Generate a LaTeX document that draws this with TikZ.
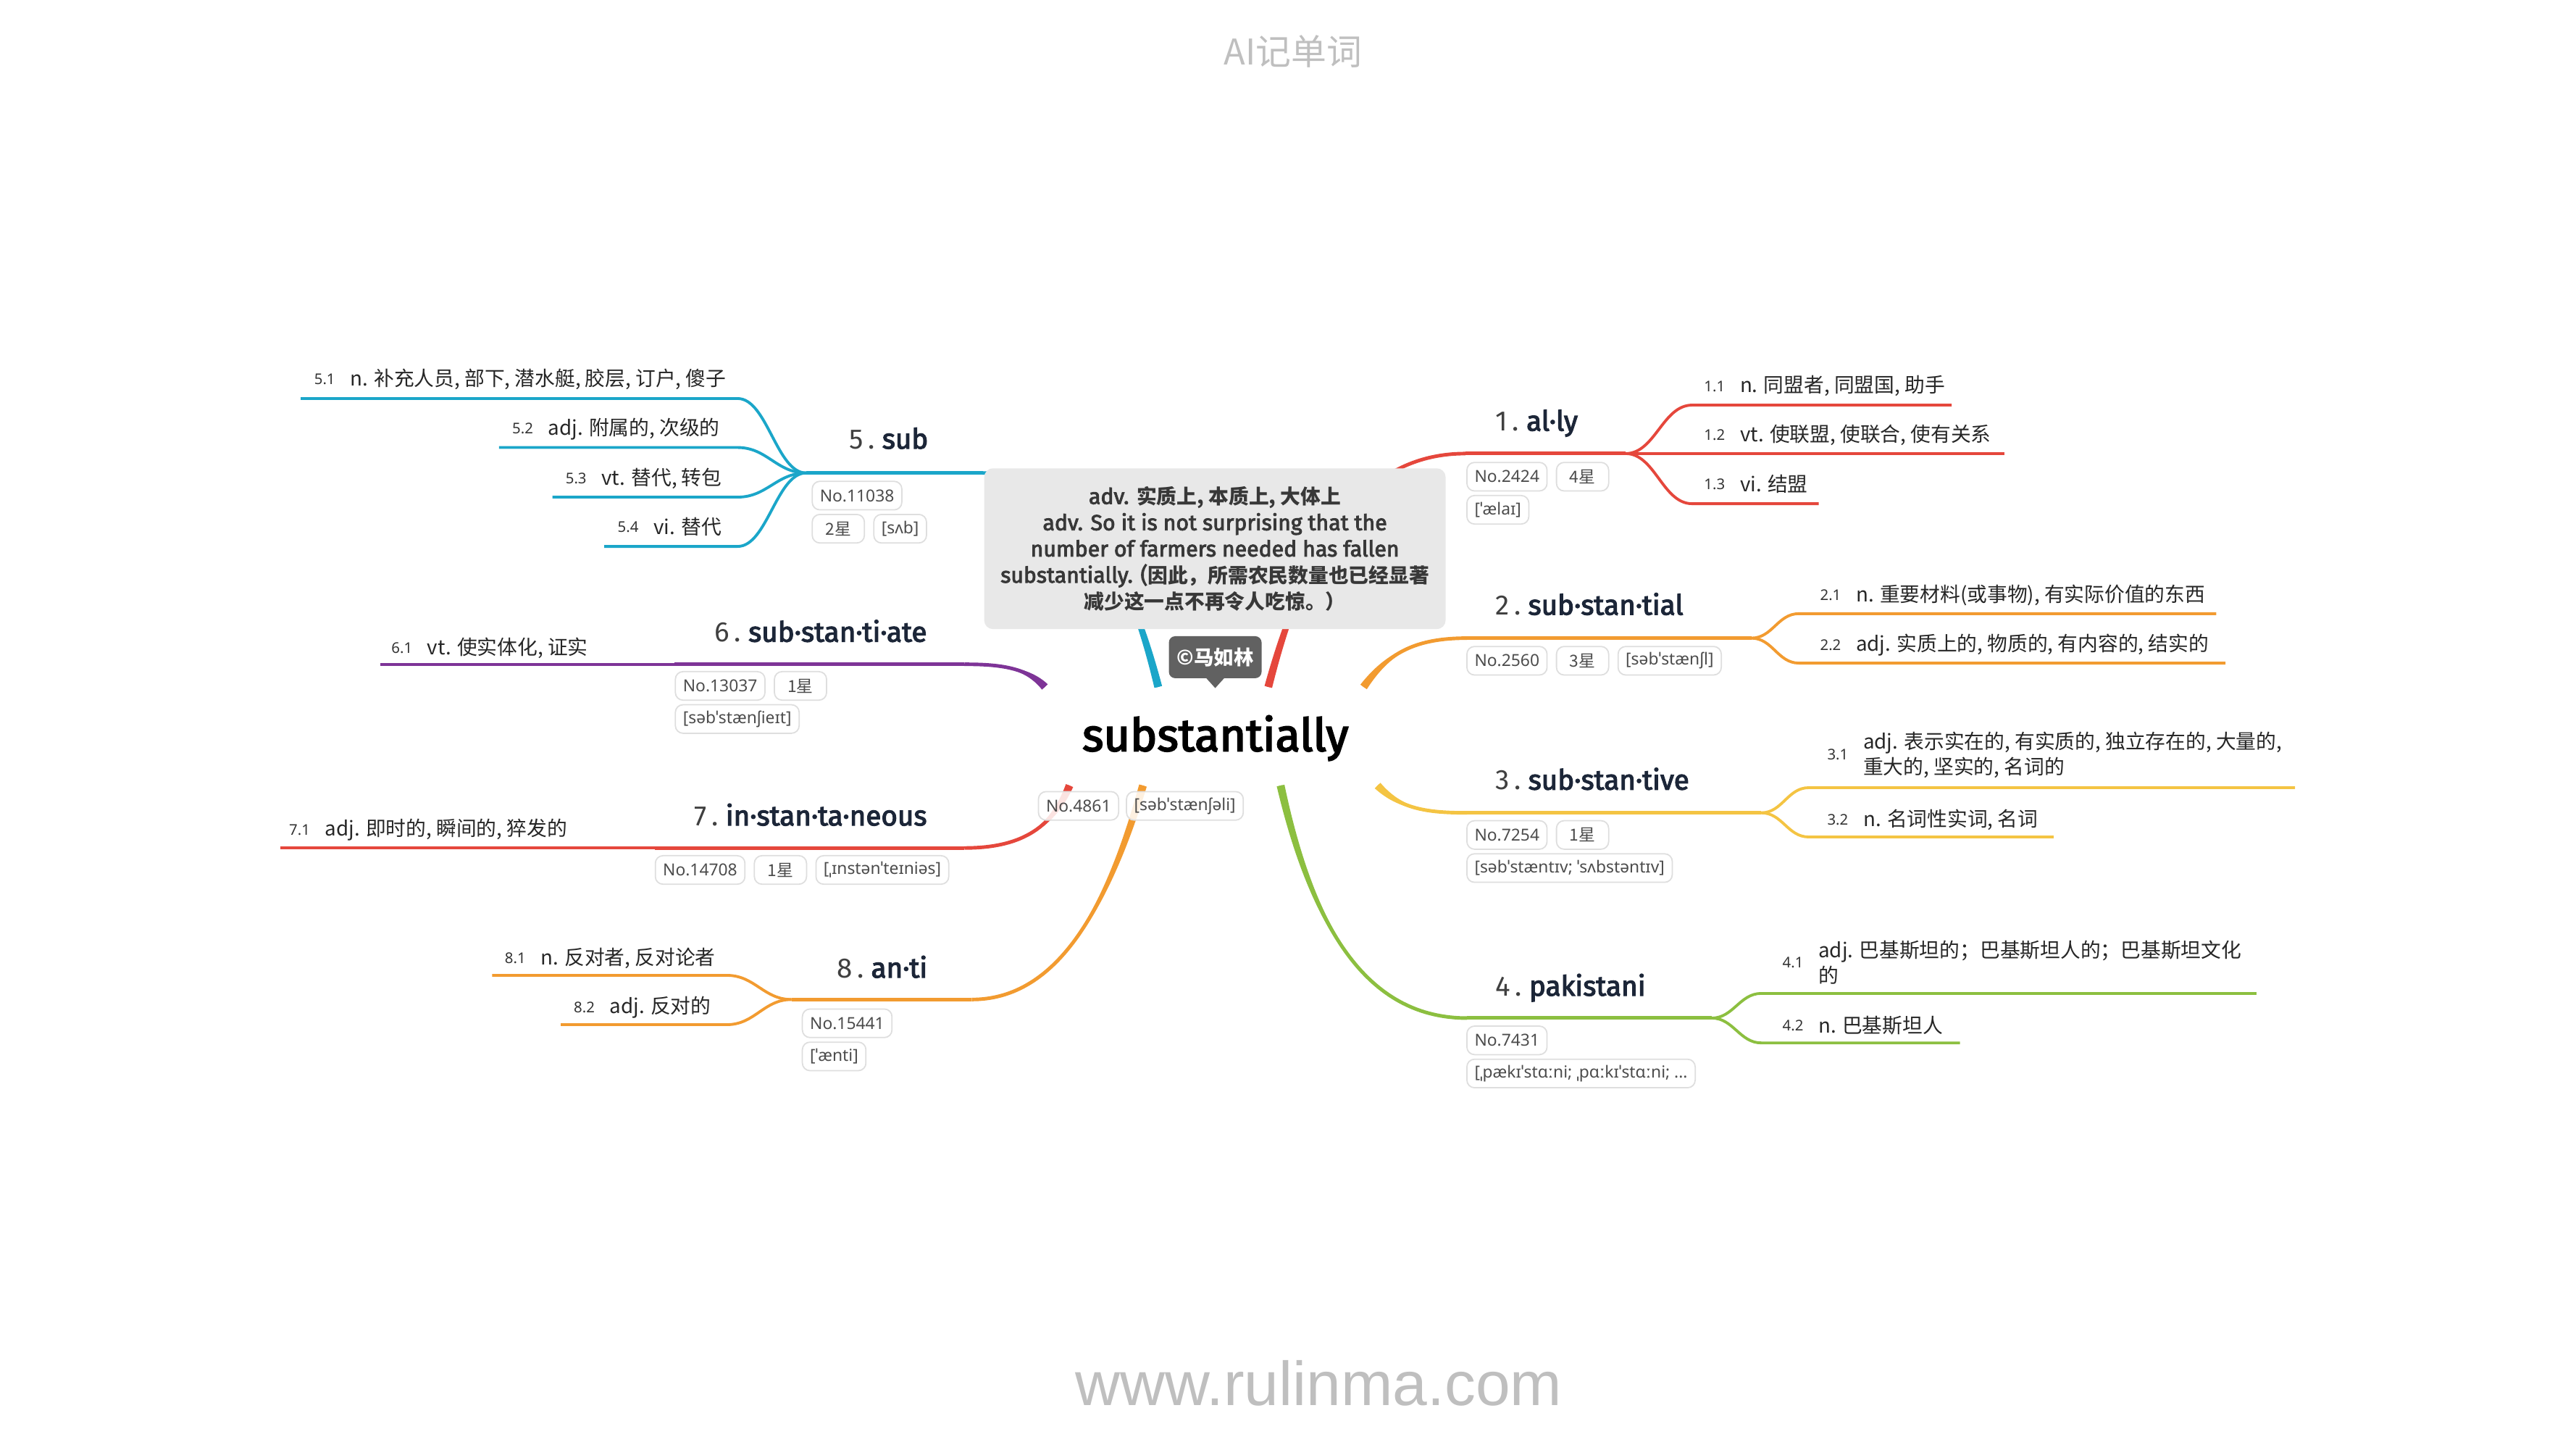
\documentclass[tikz,border=0pt]{standalone}
\usepackage{fontspec}
\setmainfont{Noto Sans}
\newfontfamily\headfont{Fira Sans}[AutoFakeBold=3]
\newfontfamily\cjk{Noto Sans CJK SC}
\newfontfamily\webfont{Liberation Sans}
\usetikzlibrary{positioning,calc}

\definecolor{cyanb}{HTML}{1BA6C9}
\definecolor{redb}{HTML}{E5473C}
\definecolor{orangeb}{HTML}{F29B30}
\definecolor{yellowb}{HTML}{F4C443}
\definecolor{greenb}{HTML}{8CBF40}
\definecolor{purpleb}{HTML}{7E3497}
\definecolor{wordc}{HTML}{1C2638}
\definecolor{notec}{HTML}{E8E8E8}
\definecolor{markc}{HTML}{BFBFBF}

% number in front of a head word
\newcommand\wnum[1]{{\mdseries\color{black!75}#1\,.\ }}
% chinese run inside the note
\newcommand\ncjk[1]{{\fontsize{7.9}{10.3}\selectfont\cjk #1}}
% tapered main branch: colour, start, control 1, control 2, end, half width
\newcommand\trunk[6]{%
  \fill[#1] ($(#2)+(#6)$) .. controls ($(#3)+0.5*(#6)$) and (#4) .. (#5)
    .. controls (#4) and ($(#3)-0.5*(#6)$) .. ($(#2)-(#6)$) -- cycle;
  \draw[#1, trunkline] (#2) .. controls (#3) and (#4) .. (#5);
}

\begin{document}
\begin{tikzpicture}[x=0.2268mm, y=-0.2268mm,
    trunkline/.style={line width=1.4pt},
    twig/.style={line width=1.1pt},
    word/.style={inner sep=0pt, text=wordc, font=\fontsize{11}{13}\selectfont\headfont\bfseries},
    sense/.style={inner sep=0pt, align=left, text=black!85, font=\fontsize{7.9}{10}\selectfont\cjk},
    num/.style={inner sep=0pt, text=black!80, font=\fontsize{5.8}{7}\selectfont},
    chip/.style={draw=black!13, line width=0.5pt, fill=white, fill opacity=0.85, text opacity=1,
      rounded corners=3pt, inner xsep=3pt, inner ysep=0pt, minimum height=11.2pt,
      text=black!70, font=\fontsize{6.5}{8}\selectfont},
    star/.style={chip, minimum width=20.5pt, font=\fontsize{6.5}{8}\selectfont\cjk},
    note/.style={fill=notec, rounded corners=3.5pt, minimum width=63.7mm, minimum height=22.2mm,
      inner sep=0pt, align=center, text=black!78, font=\fontsize{8.6}{10.3}\selectfont\headfont\bfseries},
    tag/.style={fill=black!62, rounded corners=2.5pt, minimum width=12.8mm, minimum height=5.8mm,
      inner sep=0pt, text=white, font=\fontsize{7.8}{9}\selectfont\cjk\bfseries},
    rootword/.style={inner sep=0pt, text=black, font=\fontsize{17.9}{21}\selectfont\headfont\bfseries}]
  \useasboundingbox (0,0) rectangle (1568,882);

  % branch points
  \coordinate (s1) at (772,418);   \coordinate (h1) at (892,276);    \coordinate (f1) at (989.5,276);
  \coordinate (s2) at (830,418);   \coordinate (h2) at (893,388.3);  \coordinate (f2) at (1066,388.3);
  \coordinate (s3) at (838.5,478); \coordinate (h3) at (893,494.6);  \coordinate (f3) at (1072,494.6);
  \coordinate (s4) at (779.5,478); \coordinate (h4) at (893,619.5);  \coordinate (f4) at (1042,619.5);
  \coordinate (s5) at (705,418);   \coordinate (h5) at (598,287.8);  \coordinate (f5) at (490.7,287.8);
  \coordinate (s6) at (636,418);   \coordinate (h6) at (587,404.2);  \coordinate (f6) at (410.7,404.2);
  \coordinate (s7) at (651,478);   \coordinate (h7) at (587,516);    \coordinate (f7) at (398.5,516);
  \coordinate (s8) at (695.7,478); \coordinate (h8) at (591.5,608.2); \coordinate (f8) at (481.8,608.2);

  \coordinate (e11) at (1188,246.5); \coordinate (e12) at (1220,276); \coordinate (e13) at (1107,306.5);
  \coordinate (e21) at (1349,373.4); \coordinate (e22) at (1354.6,403.5);
  \coordinate (e31) at (1397,479.3); \coordinate (e32) at (1250,509.3);
  \coordinate (e41) at (1373.5,604.5); \coordinate (e42) at (1193,634.6);
  \coordinate (e51) at (183,242.5); \coordinate (e52) at (303.8,272.3);
  \coordinate (e53) at (336.3,302.5); \coordinate (e54) at (367.8,332.5);
  \coordinate (e61) at (231.3,404.2); \coordinate (e71) at (170.5,516);
  \coordinate (e81) at (299.6,593.5); \coordinate (e82) at (341.3,623.5);

  % main branches
  \trunk{redb}{s1}{795,330}{830,276}{h1}{2.3,0.6}
  \trunk{orangeb}{s2}{845,397}{862,388.3}{h2}{1.95,1.4}
  \trunk{yellowb}{s3}{852,492}{868,494.6}{h3}{1.73,-1.67}
  \trunk{greenb}{s4}{800,570}{835,619.5}{h4}{2.35,-0.5}
  \trunk{cyanb}{s5}{683,330}{650,287.8}{h5}{2.33,-0.58}
  \trunk{purpleb}{s6}{625,406}{608,404.2}{h6}{1.77,-1.62}
  \trunk{redb}{s7}{640,505}{620,516}{h7}{2.2,0.9}
  \trunk{orangeb}{s8}{672,560}{640,608.2}{h8}{2.3,0.67}
  \foreach \i/\c in {1/redb,2/orangeb,3/yellowb,4/greenb,5/cyanb,6/purpleb,7/redb,8/orangeb}
    \draw[\c, trunkline] (h\i) -- (f\i);

  % sub branches
  \draw[twig, redb] (f1) .. controls +(18,0) and +(-18,0) .. (1030,246.5) -- (e11);
  \draw[twig, redb] (f1) -- (e12);
  \draw[twig, redb] (f1) .. controls +(18,0) and +(-18,0) .. (1030,306.5) -- (e13);
  \draw[twig, orangeb] (f2) .. controls +(13,0) and +(-13,0) .. (1095,373.4) -- (e21);
  \draw[twig, orangeb] (f2) .. controls +(13,0) and +(-13,0) .. (1095,403.5) -- (e22);
  \draw[twig, yellowb] (f3) .. controls +(13,0) and +(-13,0) .. (1101,479.3) -- (e31);
  \draw[twig, yellowb] (f3) .. controls +(13,0) and +(-13,0) .. (1101,509.3) -- (e32);
  \draw[twig, greenb] (f4) .. controls +(13,0) and +(-13,0) .. (1072,604.5) -- (e41);
  \draw[twig, greenb] (f4) .. controls +(13,0) and +(-13,0) .. (1072,634.6) -- (e42);
  \draw[twig, cyanb] (f5) .. controls +(-18,0) and +(18,0) .. (449,242.5) -- (e51);
  \draw[twig, cyanb] (f5) .. controls +(-18,0) and +(18,0) .. (449,272.3) -- (e52);
  \draw[twig, cyanb] (f5) .. controls +(-18,0) and +(18,0) .. (449,302.5) -- (e53);
  \draw[twig, cyanb] (f5) .. controls +(-18,0) and +(18,0) .. (449,332.5) -- (e54);
  \draw[twig, purpleb] (f6) -- (e61);
  \draw[twig, redb] (f7) -- (e71);
  \draw[twig, orangeb] (f8) .. controls +(-17,0) and +(17,0) .. (442.5,593.5) -- (e81);
  \draw[twig, orangeb] (f8) .. controls +(-17,0) and +(17,0) .. (442.5,623.5) -- (e82);

  % centre
  \node[note] (note) at (739.5,333.9) {adv. \ncjk{实质上, 本质上, 大体上}\\
    adv. So it is not surprising that the\\
    number of farmers needed has fallen\\
    substantially. (\ncjk{因此，所需农民数量也已经显著}\\
    \ncjk{减少这一点不再令人吃惊。）}};
  \node[tag] (tag) at (739.7,399.9) {©马如林};
  \fill[black!62] ($(tag.south)+(-5.6,-0.5)$) -- ($(tag.south)+(5.6,-0.5)$) -- ($(tag.south)+(0,5.7)$) -- cycle;
  \node[rootword, anchor=base] (root) at (739.8,457) {substantially};
  \node[chip, anchor=north west] (c0a) at (631.7,481.3) {No.4861};
  \node[chip, right=2.6pt of c0a] (c0b) {[səbˈstænʃəli]};

  % head words
  \node[word, anchor=base west] (w1) at (910,262.1) {\wnum{1}al·ly};
  \node[word, anchor=base west] (w2) at (910,374.1) {\wnum{2}sub·stan·tial};
  \node[word, anchor=base west] (w3) at (910,480.5) {\wnum{3}sub·stan·tive};
  \node[word, anchor=base west] (w4) at (910,605.9) {\wnum{4}pakistani};
  \node[word, anchor=base east] (w5) at (565.3,273) {\wnum{5}sub};
  \node[word, anchor=base east] (w6) at (564.5,390.5) {\wnum{6}sub·stan·ti·ate};
  \node[word, anchor=base east] (w7) at (564.5,502.3) {\wnum{7}in·stan·ta·neous};
  \node[word, anchor=base east] (w8) at (564.8,594.9) {\wnum{8}an·ti};

  % chips
  \node[chip, anchor=north west] (c1a) at (892.5,281) {No.2424};
  \node[star, right=3.2pt of c1a] (c1b) {4星};
  \node[chip, below=1.3pt of c1a.south west, anchor=north west] (c1c) {[ˈælaɪ]};
  \node[chip, anchor=north west] (c2a) at (892.5,393) {No.2560};
  \node[star, right=3.2pt of c2a] (c2b) {3星};
  \node[chip, right=3.2pt of c2b] (c2c) {[səbˈstænʃl]};
  \node[chip, anchor=north west] (c3a) at (892.5,499) {No.7254};
  \node[star, right=3.2pt of c3a] (c3b) {1星};
  \node[chip, below=1.3pt of c3a.south west, anchor=north west] (c3c) {[səbˈstæntɪv; ˈsʌbstəntɪv]};
  \node[chip, anchor=north west] (c4a) at (892.5,624) {No.7431};
  \node[chip, below=1.3pt of c4a.south west, anchor=north west] (c4b) {[ˌpækɪˈstɑːni; ˌpɑːkɪˈstɑːni; ...};
  \node[chip, anchor=north west] (c5a) at (494,292.5) {No.11038};
  \node[star, below=1.3pt of c5a.south west, anchor=north west] (c5b) {2星};
  \node[chip, right=3.2pt of c5b] (c5c) {[sʌb]};
  \node[chip, anchor=north west] (c6a) at (410.7,408.3) {No.13037};
  \node[star, right=3.2pt of c6a] (c6b) {1星};
  \node[chip, below=1.3pt of c6a.south west, anchor=north west] (c6c) {[səbˈstænʃieɪt]};
  \node[chip, anchor=north west] (c7a) at (398.5,520.3) {No.14708};
  \node[star, right=3.2pt of c7a] (c7b) {1星};
  \node[chip, right=3.2pt of c7b] (c7c) {[ˌɪnstənˈteɪniəs]};
  \node[chip, anchor=north west] (c8a) at (488,613.6) {No.15441};
  \node[chip, below=1.3pt of c8a.south west, anchor=north west] (c8b) {[ˈænti]};

  % senses
  \node[num, anchor=west] (n11) at (1037,235) {1.1};
  \node[sense, right=5.5pt of n11] (t11) {n. 同盟者, 同盟国, 助手};
  \node[num, anchor=west] (n12) at (1037,264.6) {1.2};
  \node[sense, right=5.5pt of n12] (t12) {vt. 使联盟, 使联合, 使有关系};
  \node[num, anchor=west] (n13) at (1037,294.6) {1.3};
  \node[sense, right=5.5pt of n13] (t13) {vi. 结盟};
  \node[num, anchor=west] (n21) at (1107.6,362.3) {2.1};
  \node[sense, right=5.5pt of n21] (t21) {n. 重要材料(或事物), 有实际价值的东西};
  \node[num, anchor=west] (n22) at (1107.6,392.7) {2.2};
  \node[sense, right=5.5pt of n22] (t22) {adj. 实质上的, 物质的, 有内容的, 结实的};
  \node[num, anchor=west] (n31) at (1112,459.3) {3.1};
  \node[sense, right=5.5pt of n31] (t31) {adj. 表示实在的, 有实质的, 独立存在的, 大量的,\\重大的, 坚实的, 名词的};
  \node[num, anchor=west] (n32) at (1112,499) {3.2};
  \node[sense, right=5.5pt of n32] (t32) {n. 名词性实词, 名词};
  \node[num, anchor=west] (n41) at (1084.7,585.6) {4.1};
  \node[sense, right=5.5pt of n41] (t41) {adj. 巴基斯坦的；巴基斯坦人的；巴基斯坦文化\\的};
  \node[num, anchor=west] (n42) at (1084.7,624) {4.2};
  \node[sense, right=5.5pt of n42] (t42) {n. 巴基斯坦人};
  \node[num, anchor=west] (n51) at (191,230.7) {5.1};
  \node[sense, right=5.5pt of n51] (t51) {n. 补充人员, 部下, 潜水艇, 胶层, 订户, 傻子};
  \node[num, anchor=west] (n52) at (311.5,260.9) {5.2};
  \node[sense, right=5.5pt of n52] (t52) {adj. 附属的, 次级的};
  \node[num, anchor=west] (n53) at (344,291) {5.3};
  \node[sense, right=5.5pt of n53] (t53) {vt. 替代, 转包};
  \node[num, anchor=west] (n54) at (375.7,320.6) {5.4};
  \node[sense, right=5.5pt of n54] (t54) {vi. 替代};
  \node[num, anchor=west] (n61) at (238,394.2) {6.1};
  \node[sense, right=5.5pt of n61] (t61) {vt. 使实体化, 证实};
  \node[num, anchor=west] (n71) at (175.7,504.9) {7.1};
  \node[sense, right=5.5pt of n71] (t71) {adj. 即时的, 瞬间的, 猝发的};
  \node[num, anchor=west] (n81) at (307,583.2) {8.1};
  \node[sense, right=5.5pt of n81] (t81) {n. 反对者, 反对论者};
  \node[num, anchor=west] (n82) at (349,612.9) {8.2};
  \node[sense, right=5.5pt of n82] (t82) {adj. 反对的};

  % title and site
  \node[text=markc, font=\fontsize{13.9}{16}\selectfont\cjk] (title) at (787,31.5) {AI记单词};
  \node[text=markc, font=\fontsize{24.4}{28}\selectfont\webfont, anchor=base] (site) at (802.7,855.4) {www.rulinma.com};
\end{tikzpicture}
\end{document}
